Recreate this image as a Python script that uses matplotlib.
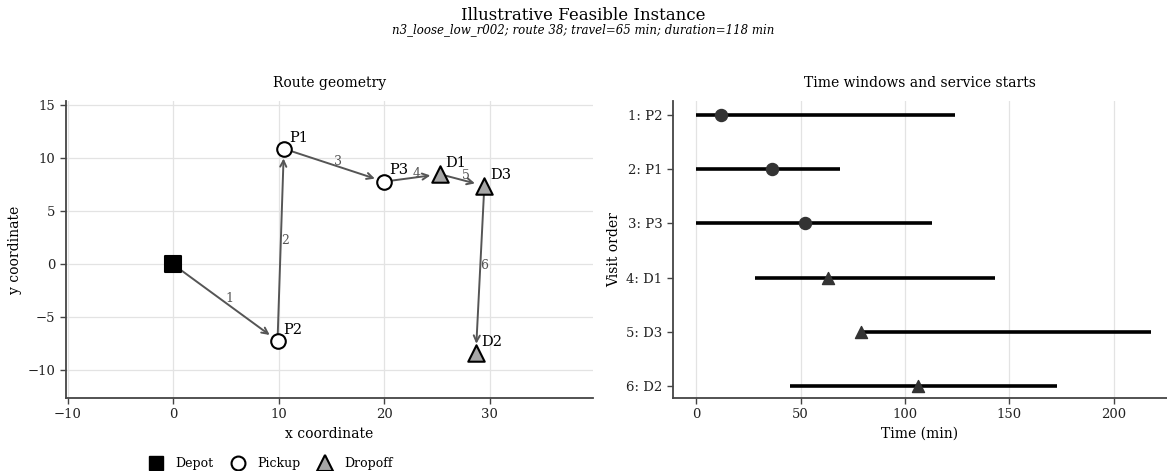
import matplotlib
matplotlib.use("Agg")
import matplotlib.pyplot as plt
from matplotlib.lines import Line2D

plt.rcParams['font.family'] = ['DejaVu Serif']

# ---- data ----
stops = ["Depot", "P2", "P1", "P3", "D1", "D3", "D2"]
stop_kind = ["depot", "pickup", "pickup", "pickup", "dropoff", "dropoff", "dropoff"]
xs = [0.0, 9.9, 10.5, 20.0, 25.3, 29.5, 28.7]
ys = [0.0, -7.2, 10.9, 7.8, 8.5, 7.4, -8.4]

visit_labels = ["1: P2", "2: P1", "3: P3", "4: D1", "5: D3", "6: D2"]
visit_kind = ["pickup", "pickup", "pickup", "dropoff", "dropoff", "dropoff"]
tw_start = [0, 0, 0, 28, 79, 45]
tw_end = [124, 69, 113, 143, 218, 173]
service_start = [12, 36, 52, 63, 79, 106]

title = "Illustrative Feasible Instance"
subtitle = "n3_loose_low_r002; route 38; travel=65 min; duration=118 min"

# ---- figure ----
W, H = 1167, 471
fig = plt.figure(figsize=(W / 100, H / 100), dpi=100)

spine_c = "#444444"
grid_c = "#e3e3e3"


def style(ax):
    for s in ["top", "right"]:
        ax.spines[s].set_visible(False)
    for s in ["left", "bottom"]:
        ax.spines[s].set_color(spine_c)
        ax.spines[s].set_linewidth(1.3)
    ax.tick_params(colors="#222222", labelsize=9.5, length=4, width=1, color=spine_c)
    ax.set_axisbelow(True)


# Left: route geometry
ax1 = fig.add_axes([66 / W, 1 - 398 / H, (593 - 66) / W, (398 - 101) / H])
style(ax1)
ax1.grid(True, color=grid_c, linewidth=0.9)
ax1.set_xlim(-10.15, 39.8)
ax1.set_ylim(-12.6, 15.4)
ax1.set_xticks([-10, 0, 10, 20, 30])
ax1.set_yticks([-10, -5, 0, 5, 10, 15])

for i in range(len(xs) - 1):
    ax1.annotate("", xy=(xs[i + 1], ys[i + 1]), xytext=(xs[i], ys[i]),
                 arrowprops=dict(arrowstyle="->", color="#555555", lw=1.4,
                                 shrinkA=0, shrinkB=7, mutation_scale=11),
                 zorder=2)
    mx = (xs[i] + xs[i + 1]) / 2
    my = (ys[i] + ys[i + 1]) / 2
    ax1.annotate(str(i + 1), (mx, my), xytext=(3, 3), textcoords="offset points",
                 ha="center", va="center", fontsize=9, color="#555555", zorder=3)

marker_map = {"depot": "s", "pickup": "o", "dropoff": "^"}
face_map = {"depot": "black", "pickup": "white", "dropoff": "#a6a6a6"}
size_map = {"depot": 130, "pickup": 110, "dropoff": 140}
for x, y, k, name in zip(xs, ys, stop_kind, stops):
    ax1.scatter([x], [y], marker=marker_map[k], s=size_map[k], facecolor=face_map[k],
                edgecolor="black", linewidth=1.5, zorder=4)
    if k != "depot":
        ax1.annotate(name, (x, y), xytext=(4, 3), textcoords="offset points",
                     ha="left", va="bottom", fontsize=10.5, color="black", zorder=5)

ax1.set_xlabel("x coordinate", fontsize=10)
ax1.set_ylabel("y coordinate", fontsize=10)
ax1.set_title("Route geometry", fontsize=10, pad=10)

# Right: time windows
ax2 = fig.add_axes([673 / W, 1 - 398 / H, (W - 673) / W, (398 - 101) / H])
style(ax2)
ax2.grid(True, axis="x", color=grid_c, linewidth=0.9)
rows = list(range(1, len(visit_labels) + 1))
for r, a, b, s, k in zip(rows, tw_start, tw_end, service_start, visit_kind):
    ax2.plot([a, b], [r, r], color="black", linewidth=2.6, solid_capstyle="butt", zorder=2)
    ax2.scatter([s], [r], marker="o" if k == "pickup" else "^", s=75,
                color="#333333", zorder=3)
ax2.set_yticks(rows)
ax2.set_yticklabels(visit_labels)
ax2.set_ylim(6.22, 0.74)
ax2.set_xlim(-11.2, 225.5)
ax2.set_xticks([0, 50, 100, 150, 200])
ax2.set_xlabel("Time (min)", fontsize=10)
ax2.set_ylabel("Visit order", fontsize=10)
ax2.set_title("Time windows and service starts", fontsize=10, pad=10)

# Titles
fig.text(0.5, 1 - 19.5 / H, title, ha="center", va="baseline", fontsize=12)
fig.text(0.5, 1 - 33.5 / H, subtitle, ha="center", va="baseline", fontsize=8.5, style="italic")

# Legend
handles = [
    Line2D([], [], linestyle="none", marker="s", markersize=10.5, markerfacecolor="black",
           markeredgecolor="black", label="Depot"),
    Line2D([], [], linestyle="none", marker="o", markersize=10, markerfacecolor="white",
           markeredgecolor="black", markeredgewidth=1.5, label="Pickup"),
    Line2D([], [], linestyle="none", marker="^", markersize=11, markerfacecolor="#a6a6a6",
           markeredgecolor="black", markeredgewidth=1.5, label="Dropoff"),
]
fig.legend(handles=handles, loc="center", bbox_to_anchor=(268 / W, 1 - 464 / H), ncol=3,
           frameon=False, fontsize=9, handletextpad=0.5, columnspacing=1.0)

fig.savefig("out.png", dpi=100)
